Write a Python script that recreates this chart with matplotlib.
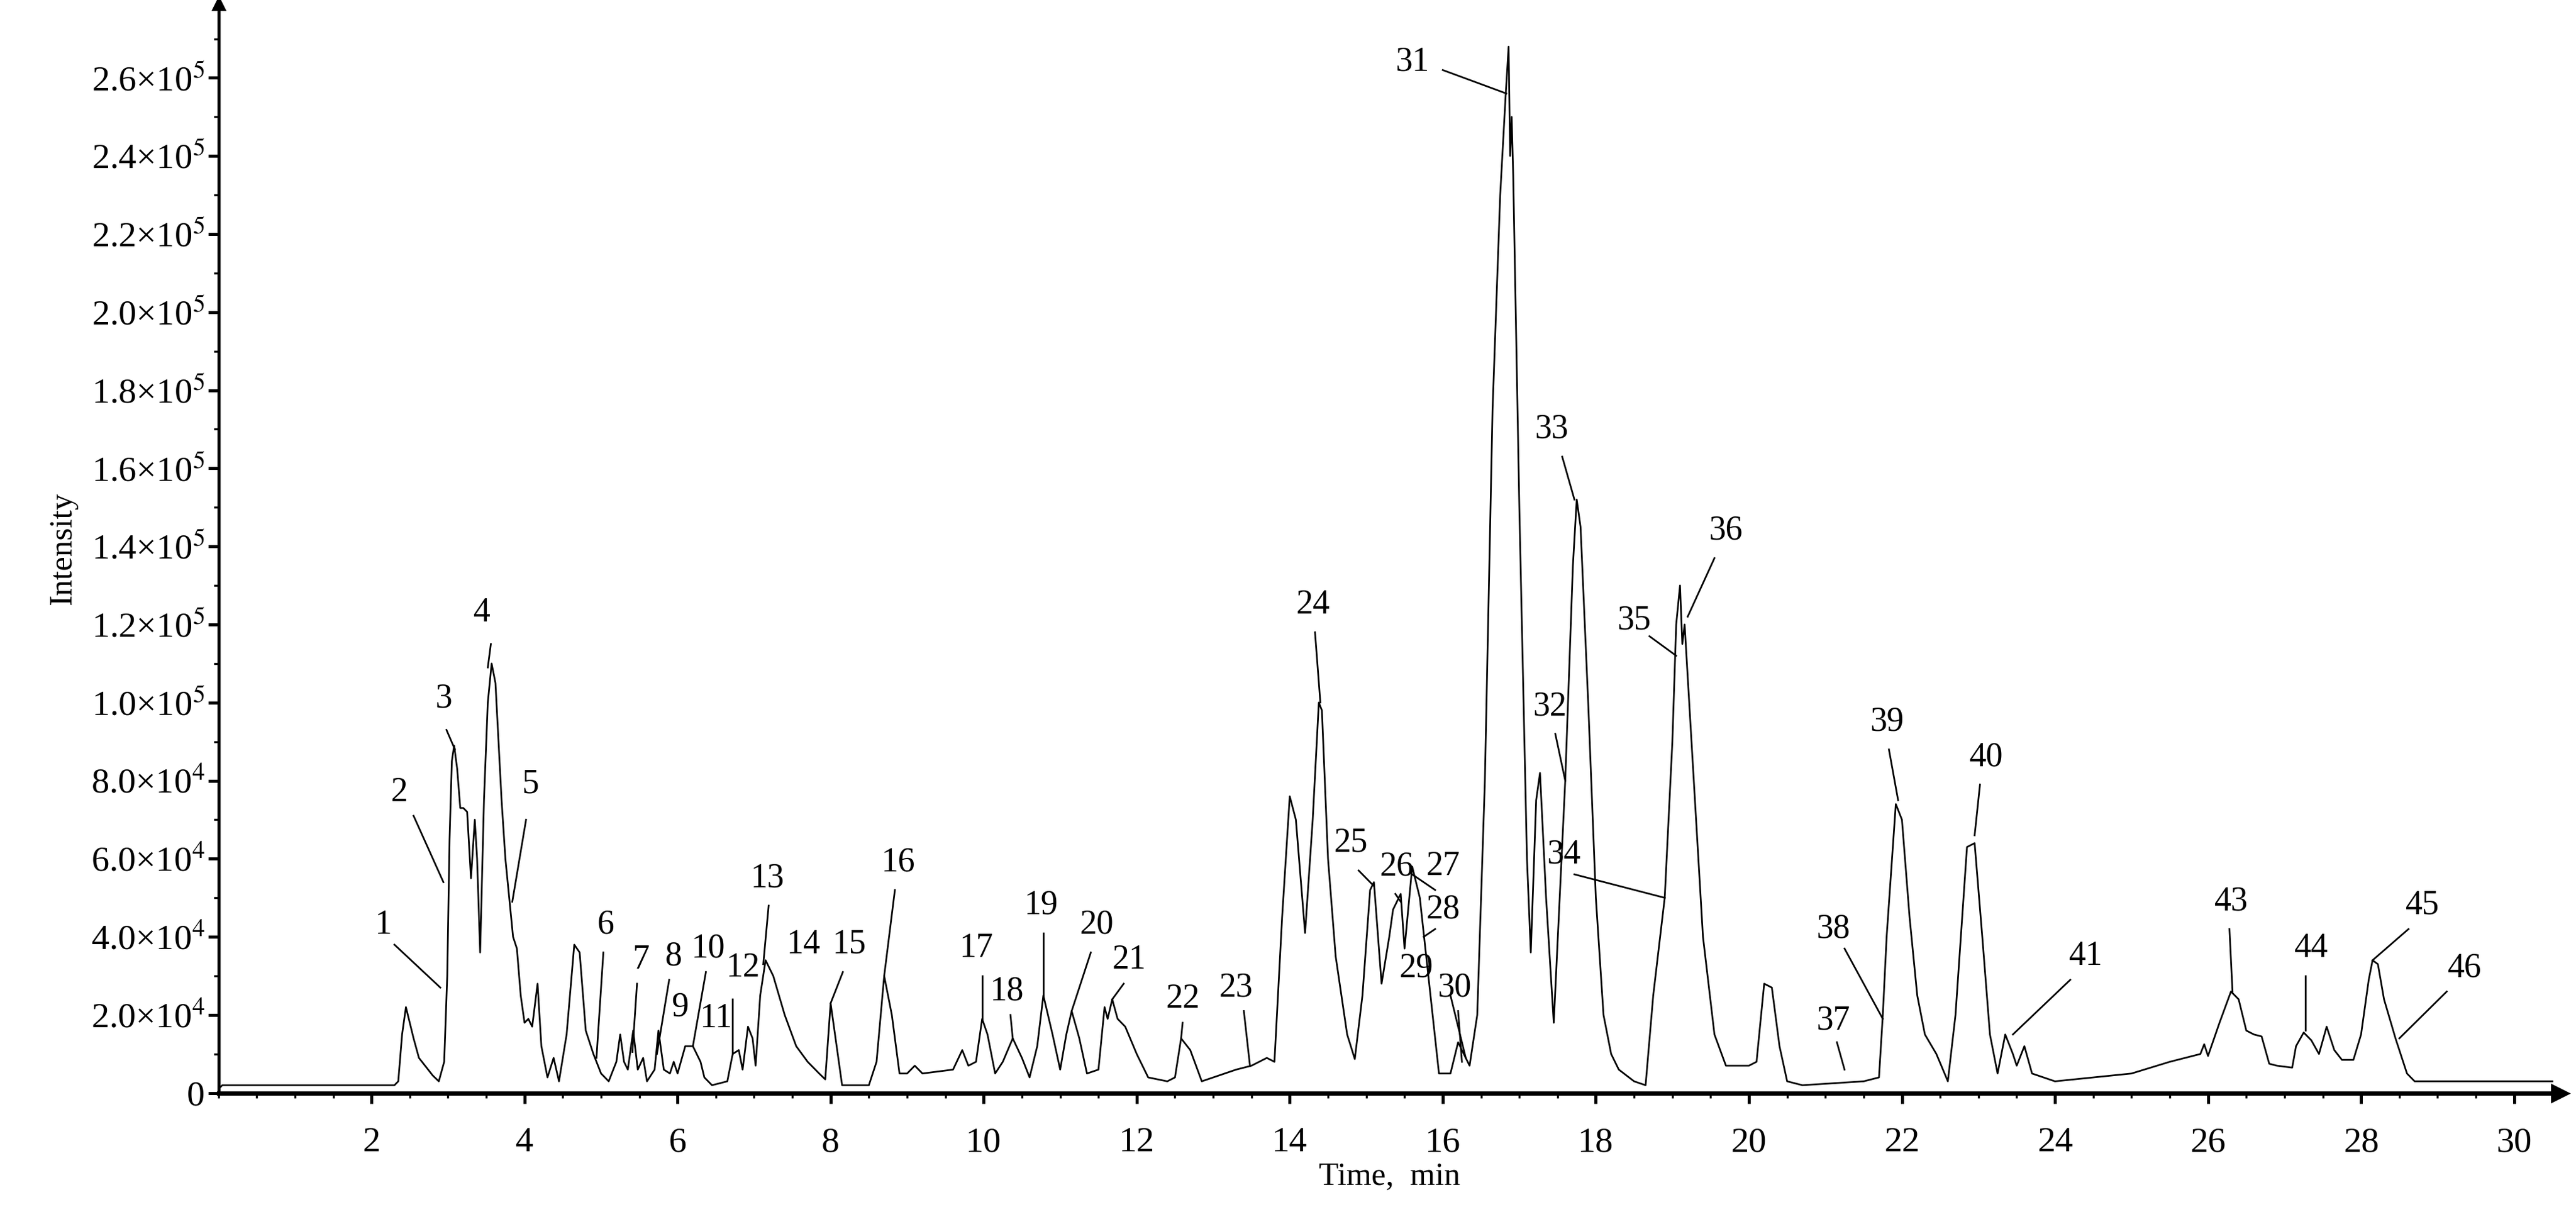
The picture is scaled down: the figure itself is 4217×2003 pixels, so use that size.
"""
Chromatogram with 46 numbered peaks.
"""

import numpy as np
from matplotlib import pyplot as plt
from matplotlib.ticker import MultipleLocator, FuncFormatter

# trace: time (min) and intensity (x1e4)
time = [0.0, 0.05, 0.1, 2.3, 2.35, 2.4, 2.45, 2.5, 2.55, 2.62, 2.7, 2.8, 2.88, 2.95, 2.99,
        3.02, 3.05, 3.08, 3.12, 3.16, 3.2, 3.25, 3.3, 3.35, 3.38, 3.42, 3.47, 3.52, 3.57,
        3.62, 3.7, 3.75, 3.85, 3.9, 3.95, 4.0, 4.05, 4.1, 4.17, 4.22, 4.3, 4.38, 4.45,
        4.55, 4.65, 4.72, 4.8, 4.9, 5.0, 5.1, 5.2, 5.25, 5.3, 5.35, 5.42, 5.48, 5.55, 5.6,
        5.7, 5.75, 5.82, 5.9, 5.95, 6.0, 6.1, 6.2, 6.3, 6.35, 6.45, 6.55, 6.65, 6.72, 6.8,
        6.85, 6.92, 6.98, 7.02, 7.08, 7.15, 7.25, 7.4, 7.55, 7.7, 7.85, 7.93, 8.0, 8.05,
        8.15, 8.3, 8.5, 8.6, 8.7, 8.8, 8.9, 9.0, 9.1, 9.2, 9.6, 9.72, 9.8, 9.9, 9.98,
        10.05, 10.15, 10.25, 10.38, 10.5, 10.6, 10.7, 10.78, 10.9, 11.0, 11.08, 11.15,
        11.25, 11.35, 11.5, 11.58, 11.62, 11.68, 11.75, 11.85, 12.0, 12.15, 12.4, 12.5,
        12.58, 12.7, 12.85, 13.0, 13.3, 13.5, 13.6, 13.7, 13.8, 13.9, 14.0, 14.08, 14.2,
        14.3, 14.38, 14.42, 14.5, 14.6, 14.75, 14.85, 14.95, 15.05, 15.1, 15.2, 15.3,
        15.35, 15.45, 15.5, 15.6, 15.7, 15.8, 15.95, 16.1, 16.2, 16.35, 16.45, 16.55,
        16.65, 16.75, 16.82, 16.86, 16.88, 16.9, 16.92, 17.0, 17.1, 17.15, 17.22, 17.27,
        17.35, 17.45, 17.6, 17.7, 17.75, 17.8, 17.9, 18.0, 18.1, 18.2, 18.3, 18.5,
        18.65, 18.75, 18.9, 19.0, 19.05, 19.1, 19.13, 19.16, 19.25, 19.4, 19.55, 19.7,
        20.0, 20.1, 20.2, 20.3, 20.4, 20.5, 20.7, 21.5, 21.7, 21.75, 21.8, 21.92, 22.0,
        22.1, 22.2, 22.3, 22.45, 22.6, 22.7, 22.85, 22.95, 23.05, 23.15, 23.25, 23.35,
        23.45, 23.5, 23.6, 23.7, 24.0, 25.0, 25.5, 25.9, 25.95, 26.0, 26.15, 26.3, 26.4,
        26.5, 26.6, 26.7, 26.8, 26.9, 27.1, 27.15, 27.25, 27.35, 27.45, 27.55, 27.65,
        27.75, 27.9, 28.0, 28.1, 28.15, 28.22, 28.3, 28.45, 28.6, 28.7, 30.5]
intensity = [0.1, 0.2, 0.2, 0.2, 0.3, 1.5, 2.2, 1.8, 1.4, 0.9, 0.7, 0.45, 0.3, 0.8, 3.0,
             6.5, 8.5, 8.9, 8.3, 7.3, 7.3, 7.2, 5.5, 7.0, 6.0, 3.6, 7.5, 10.0, 11.0,
             10.5, 7.5, 6.0, 4.0, 3.7, 2.5, 1.8, 1.9, 1.7, 2.8, 1.2, 0.4, 0.9, 0.3,
             1.5, 3.8, 3.6, 1.6, 1.0, 0.5, 0.3, 0.8, 1.5, 0.8, 0.6, 1.6, 0.6, 0.9, 0.3,
             0.6, 1.6, 0.6, 0.5, 0.8, 0.5, 1.2, 1.2, 0.8, 0.4, 0.2, 0.25, 0.3, 1.0, 1.1,
             0.6, 1.7, 1.4, 0.7, 2.5, 3.4, 3.0, 2.0, 1.2, 0.8, 0.5, 0.35, 2.3, 1.6,
             0.2, 0.2, 0.2, 0.8, 3.0, 2.0, 0.5, 0.5, 0.7, 0.5, 0.6, 1.1, 0.7, 0.8, 1.9,
             1.5, 0.5, 0.8, 1.4, 0.9, 0.4, 1.2, 2.5, 1.5, 0.6, 1.5, 2.1,
             1.4, 0.5, 0.6, 2.2, 1.9, 2.4, 1.9, 1.7, 1.0, 0.4, 0.3, 0.4,
             1.4, 1.1, 0.3, 0.4, 0.6, 0.7, 0.8, 0.9, 0.8, 4.5, 7.6, 7.0, 4.1,
             7.0, 10.0, 9.8, 6.0, 3.5, 1.5, 0.87, 2.5, 5.2, 5.4, 2.8, 4.0,
             4.7, 5.1, 3.7, 5.8, 5.0, 3.2, 0.5, 0.5, 1.3, 0.7, 2.0, 8.0,
             17.5, 23.0, 25.5, 26.8, 24.0, 25.0, 23.5, 15.0, 6.0, 3.6, 7.5, 8.2,
             5.0, 1.8, 8.0, 13.5, 15.2, 14.5, 10.0, 5.0, 2.0, 1.0, 0.6, 0.3,
             0.2, 2.5, 5.0, 9.0, 12.0, 13.0, 11.5, 12.0, 9.0, 4.0, 1.5, 0.7,
             0.7, 0.8, 2.8, 2.7, 1.2, 0.3, 0.2, 0.3, 0.4, 2.0, 4.0, 7.4, 7.0,
             4.5, 2.5, 1.5, 1.0, 0.3, 2.0, 6.3, 6.4, 4.0, 1.5, 0.5, 1.5,
             1.0, 0.7, 1.2, 0.5, 0.3, 0.5, 0.8, 1.0, 1.25, 0.95, 1.8, 2.6, 2.4,
             1.6, 1.5, 1.45, 0.75, 0.7, 0.65, 1.2, 1.55, 1.35, 1.0, 1.7, 1.1,
             0.85, 0.85, 1.5, 2.9, 3.4, 3.3, 2.4, 1.4, 0.5, 0.3, 0.3]

# peak labels: number, text position (t, I) and leader line ends (t, I); None = no leader
peak_ids = [str(i) for i in range(1, 47) if i != 42]
label_xy = [(2.15, 4.3), (2.36, 7.7), (2.94, 10.1), (3.44, 12.3), (4.08, 7.9), (5.06, 4.3),
            (5.52, 3.4), (5.95, 3.5), (6.03, 2.2), (6.4, 3.7), (6.5, 1.9), (6.85, 3.2),
            (7.17, 5.5), (7.64, 3.8), (8.24, 3.8), (8.88, 5.9), (9.9, 3.7), (10.3, 2.6),
            (10.75, 4.8), (11.48, 4.3), (11.9, 3.4), (12.6, 2.4), (13.3, 2.7), (14.3, 12.5),
            (14.8, 6.4), (15.4, 5.8), (16.0, 5.8), (16.0, 4.7), (15.65, 3.2), (16.15, 2.7),
            (15.6, 26.4), (17.4, 9.9), (17.42, 17.0), (17.58, 6.1), (18.5, 12.1),
            (19.7, 14.4), (21.1, 1.85), (21.1, 4.2), (21.8, 9.5), (23.1, 8.6), (24.4, 3.5),
            (26.3, 4.9), (27.35, 3.7), (28.8, 4.8), (29.35, 3.2)]
leader_start = [(2.3, 3.8), (2.55, 7.1), (2.98, 9.3), (3.56, 11.5), (4.02, 7.0), (5.03, 3.6),
                (5.47, 2.8), (5.89, 2.9), None, (6.37, 3.1), None, (6.72, 2.4),
                (7.19, 4.8), None, (8.16, 3.1), (8.84, 5.2), (9.98, 3.0), (10.35, 2.0),
                (10.78, 4.1), (11.4, 3.6), (11.83, 2.8), (12.6, 1.8), (13.4, 2.1),
                (14.33, 11.8), (14.9, 5.7), (15.38, 5.1), (15.9, 5.2), (15.9, 4.2),
                (16.1, 2.5), (16.2, 2.1), (16.0, 26.2), (17.47, 9.2), (17.56, 16.3),
                (17.72, 5.6), (18.7, 11.7), (19.55, 13.7), (21.15, 1.3), (21.25, 3.7),
                (21.83, 8.8), (23.02, 7.9), (24.2, 2.9), (26.28, 4.2), (27.27, 3.0),
                (28.62, 4.2), (29.12, 2.6)]
leader_end = [(2.9, 2.7), (2.94, 5.4), (3.09, 8.8), (3.52, 10.9), (3.84, 4.9), (4.94, 0.9),
              (5.41, 1.05), (5.73, 1.0), None, (6.2, 1.2), None, (6.72, 1.0),
              (7.12, 3.3), None, (8.0, 2.3), (8.7, 3.0), (9.98, 1.9), (10.38, 1.4),
              (10.78, 2.5), (11.15, 2.1), (11.68, 2.4), (12.58, 1.4), (13.48, 0.7),
              (14.4, 10.0), (15.1, 5.3), (15.45, 4.9), (15.6, 5.6), (15.75, 4.0),
              (16.3, 0.9), (16.25, 0.8), (16.83, 25.6), (17.6, 8.0), (17.72, 15.2),
              (18.9, 5.0), (19.05, 11.2), (19.2, 12.2), (21.25, 0.6), (21.75, 1.9),
              (21.95, 7.5), (22.95, 6.6), (23.45, 1.5), (26.32, 2.6), (27.27, 1.6),
              (28.15, 3.4), (28.5, 1.4)]

x_ticks = list(range(2, 31, 2))
y_ticks = [0, 2, 4, 6, 8, 10, 12, 14, 16, 18, 20, 22, 24, 26]


def tick_label(v, pos):
    if v == 0:
        return "0"
    if v < 10:
        return "%.1f×10$^{4}$" % v
    return "%.1f×10$^{5}$" % (v / 10)


def main():
    plt.rcParams['font.family'] = ['Liberation Serif', 'DejaVu Serif']
    plt.rcParams['mathtext.fontset'] = 'stix'

    fig = plt.figure(figsize=(21.085, 10.015), dpi=200)
    ax = fig.add_axes([0.0848, 0.107, 0.909, 0.89])

    ax.plot(time, intensity, color='black', lw=1.0)

    for pid, txt, s, e in zip(peak_ids, label_xy, leader_start, leader_end):
        ax.text(txt[0], txt[1], pid, ha='center', va='center', fontsize=20)
        if s is not None:
            ax.plot([s[0], e[0]], [s[1], e[1]], color='black', lw=1.0)

    ax.set_xlim(0, 30.6)
    ax.set_ylim(0, 27.9)
    ax.set_xticks(x_ticks)
    ax.set_yticks(y_ticks)
    ax.xaxis.set_minor_locator(MultipleLocator(0.5))
    ax.yaxis.set_minor_locator(MultipleLocator(1))
    ax.yaxis.set_major_formatter(FuncFormatter(tick_label))
    ax.tick_params(axis='both', which='major', direction='out', length=6, width=1.8,
                   labelsize=21)
    ax.tick_params(axis='both', which='minor', direction='out', length=3, width=1.2)
    ax.tick_params(axis='x', pad=14)
    ax.tick_params(axis='y', pad=2)

    ax.spines['top'].set_color('none')
    ax.spines['right'].set_color('none')
    ax.spines['left'].set_linewidth(1.8)
    ax.spines['bottom'].set_linewidth(2.5)

    # axis arrows
    ax.plot(1, 0, ">k", transform=ax.transAxes, clip_on=False, ms=10)
    ax.plot(0, 1, "^k", transform=ax.transAxes, clip_on=False, ms=7)

    ax.set_xlabel("Time,  min", fontsize=19, labelpad=2)
    ax.set_ylabel("Intensity", fontsize=19, labelpad=8)

    fig.savefig("out.png", dpi=200)


if __name__ == "__main__":
    main()
